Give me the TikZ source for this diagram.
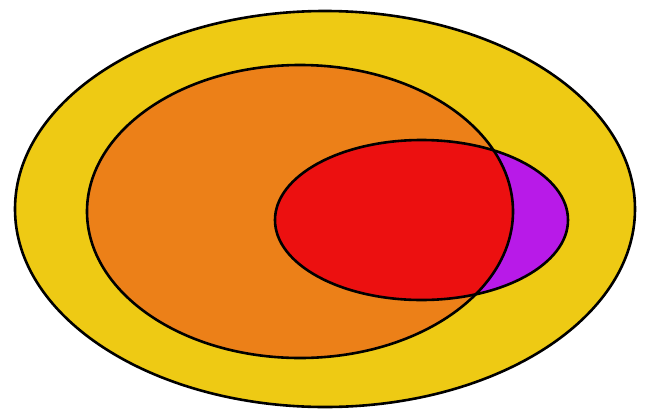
\documentclass[tikz,border=0pt]{standalone}
\definecolor{cyellow}{RGB}{238,202,20}
\definecolor{corange}{RGB}{236,128,24}
\definecolor{cred}{RGB}{236,16,16}
\definecolor{cpurple}{RGB}{184,26,232}
\tikzset{outline/.style={draw=black,line width=2.6pt}}
\begin{document}
\begin{tikzpicture}[x=1pt,y=-1pt]
\useasboundingbox (0,0) rectangle (646,413);
\fill[white] (0,0) rectangle (646,413);
% outer
\fill[cyellow] (325,209) ellipse [x radius=310, y radius=198];
% orange
\fill[corange] (300,211.5) ellipse [x radius=213, y radius=146.5];
% small ellipse (purple part)
\fill[cpurple] (421.5,220) ellipse [x radius=146.5, y radius=80];
% red intersection
\begin{scope}
\clip (300,211.5) ellipse [x radius=213, y radius=146.5];
\fill[cred] (421.5,220) ellipse [x radius=146.5, y radius=80];
\end{scope}
\draw[outline] (325,209) ellipse [x radius=310, y radius=198];
\draw[outline] (300,211.5) ellipse [x radius=213, y radius=146.5];
\draw[outline] (421.5,220) ellipse [x radius=146.5, y radius=80];
\end{tikzpicture}
\end{document}
